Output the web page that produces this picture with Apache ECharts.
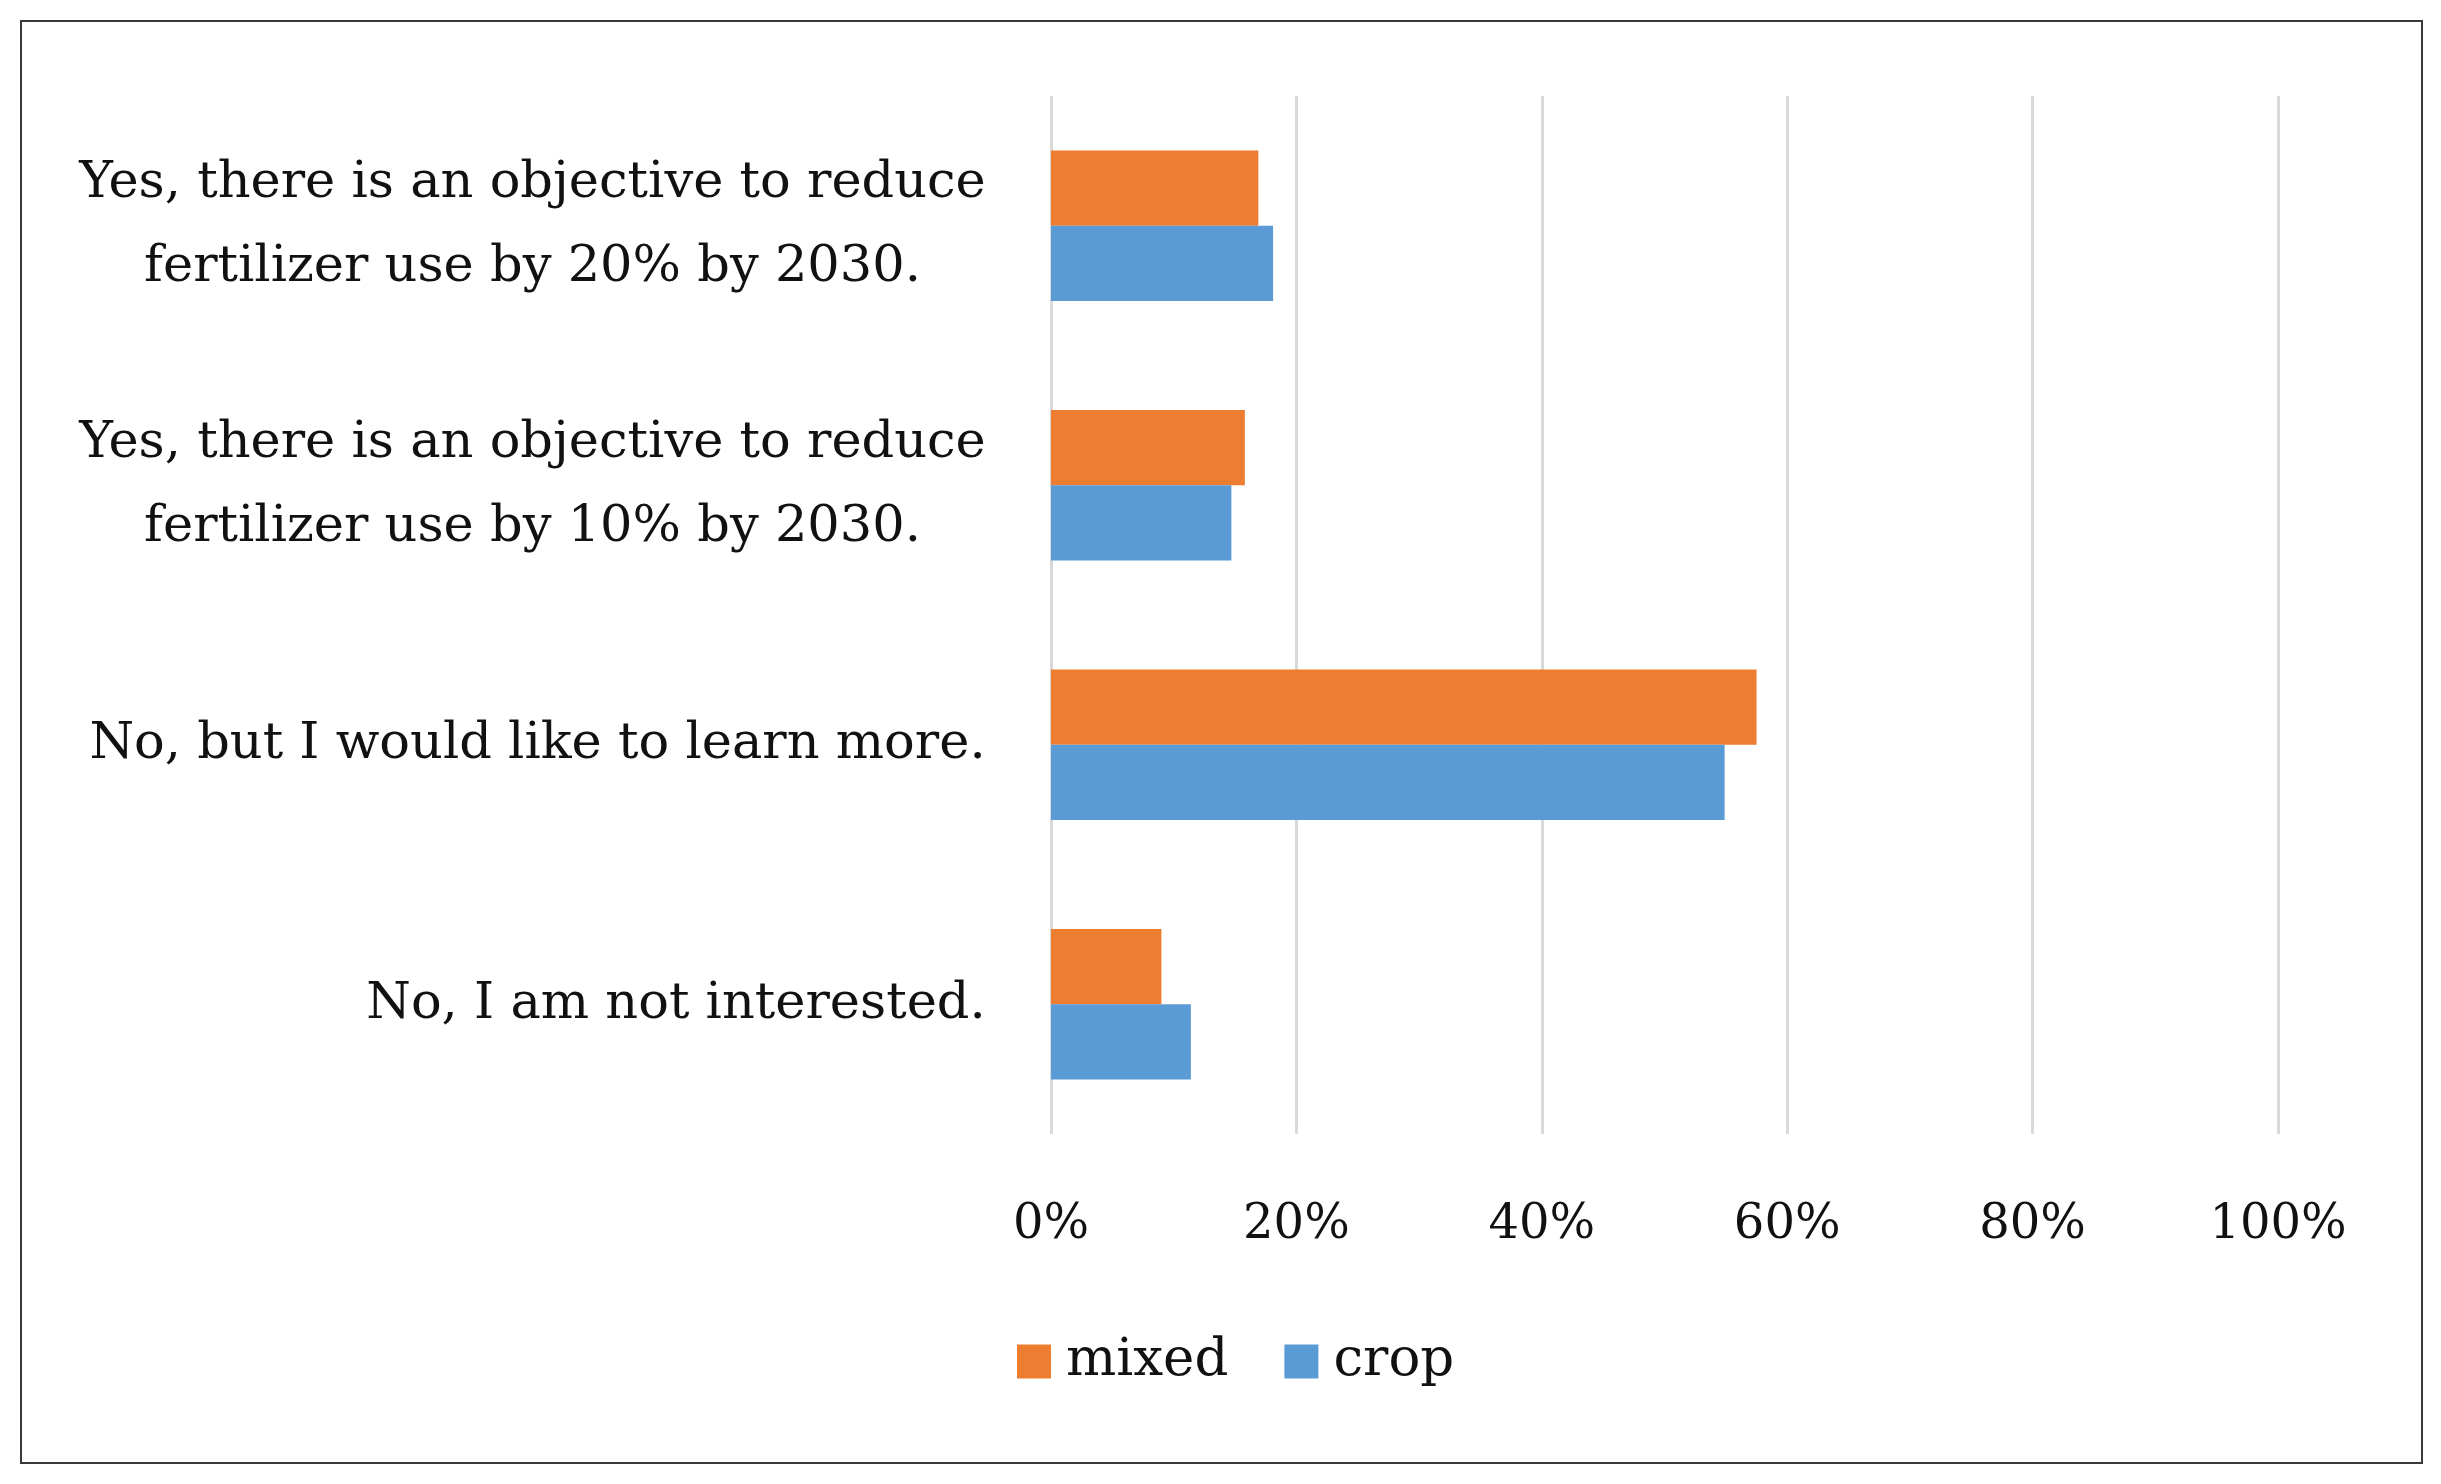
<!DOCTYPE html>
<html>
<head>
<meta charset="utf-8">
<script src="https://cdn.jsdelivr.net/npm/echarts@6/dist/echarts.min.js"></script>
<style>
html,body{margin:0;padding:0;background:#fff;}
#frame{position:absolute;left:20px;top:20px;width:2399px;height:1440px;border:2px solid #3a3a3a;}
#chart{position:absolute;left:0;top:0;width:2441px;height:1484px;}
</style>
</head>
<body>
<div id="frame"></div>
<div id="chart"></div>
<script>
const categories = [
  "Yes, there is an objective to reduce\nfertilizer use by 20% by 2030.",
  "Yes, there is an objective to reduce\nfertilizer use by 10% by 2030.",
  "No, but I would like to learn more.",
  "No, I am not interested."
];
const mixedValues = [16.9, 15.8, 57.5, 9.0];
const cropValues = [18.1, 14.7, 54.9, 11.4];
const seriesNames = ["mixed", "crop"];
const xTicks = [0, 20, 40, 60, 80, 100];

const FONT = "DejaVu Serif";
const LABEL_SIZE = 51;

const measureCtx = document.createElement('canvas').getContext('2d');
measureCtx.font = LABEL_SIZE + 'px "' + FONT + '"';
function blockWidth(text) {
  return Math.ceil(Math.max.apply(null, text.split('\n').map(l => measureCtx.measureText(l).width))) + 2;
}
const rich = {};
categories.forEach((c, i) => {
  rich['c' + i] = {
    width: blockWidth(c), align: 'center',
    fontFamily: FONT, fontSize: LABEL_SIZE, color: '#111', lineHeight: 84
  };
});

const chart = echarts.init(document.getElementById('chart'), null, {renderer: 'canvas'});
chart.setOption({
  animation: false,
  backgroundColor: 'transparent',
  textStyle: {fontFamily: FONT},
  legend: {
    data: seriesNames,
    left: 1012,
    top: 1330,
    itemWidth: 34,
    itemHeight: 34,
    itemGap: 56,
    icon: 'rect',
    textStyle: {fontFamily: FONT, fontSize: 53, color: '#111', padding: [0, 0, 0, 10]}
  },
  grid: {left: 1051, right: 163, top: 96, bottom: 350, containLabel: false},
  xAxis: {
    type: 'value',
    min: xTicks[0],
    max: xTicks[xTicks.length - 1],
    interval: 20,
    axisLine: {show: false},
    axisTick: {show: false},
    splitLine: {show: true, lineStyle: {color: '#d9d9d9', width: 3}},
    axisLabel: {
      formatter: v => v + '%',
      fontFamily: FONT, fontSize: 48, color: '#111', margin: 68
    }
  },
  yAxis: {
    type: 'category',
    data: categories,
    inverse: true,
    axisLine: {show: false},
    axisTick: {show: false},
    axisLabel: {
      fontFamily: FONT, fontSize: LABEL_SIZE, color: '#111', margin: 64,
      align: 'right', lineHeight: 84,
      formatter: (value, idx) => {
        const i = categories.indexOf(value);
        return value.split('\n').map(l => '{c' + i + '|' + l + '}').join('\n');
      },
      rich: rich
    }
  },
  series: [
    {name: seriesNames[0], type: 'bar', data: mixedValues, barGap: '0%', barCategoryGap: '42%',
     itemStyle: {color: '#ED7D31'}},
    {name: seriesNames[1], type: 'bar', data: cropValues, barGap: '0%', barCategoryGap: '42%',
     itemStyle: {color: '#5B9BD5'}}
  ]
});
</script>
</body>
</html>
